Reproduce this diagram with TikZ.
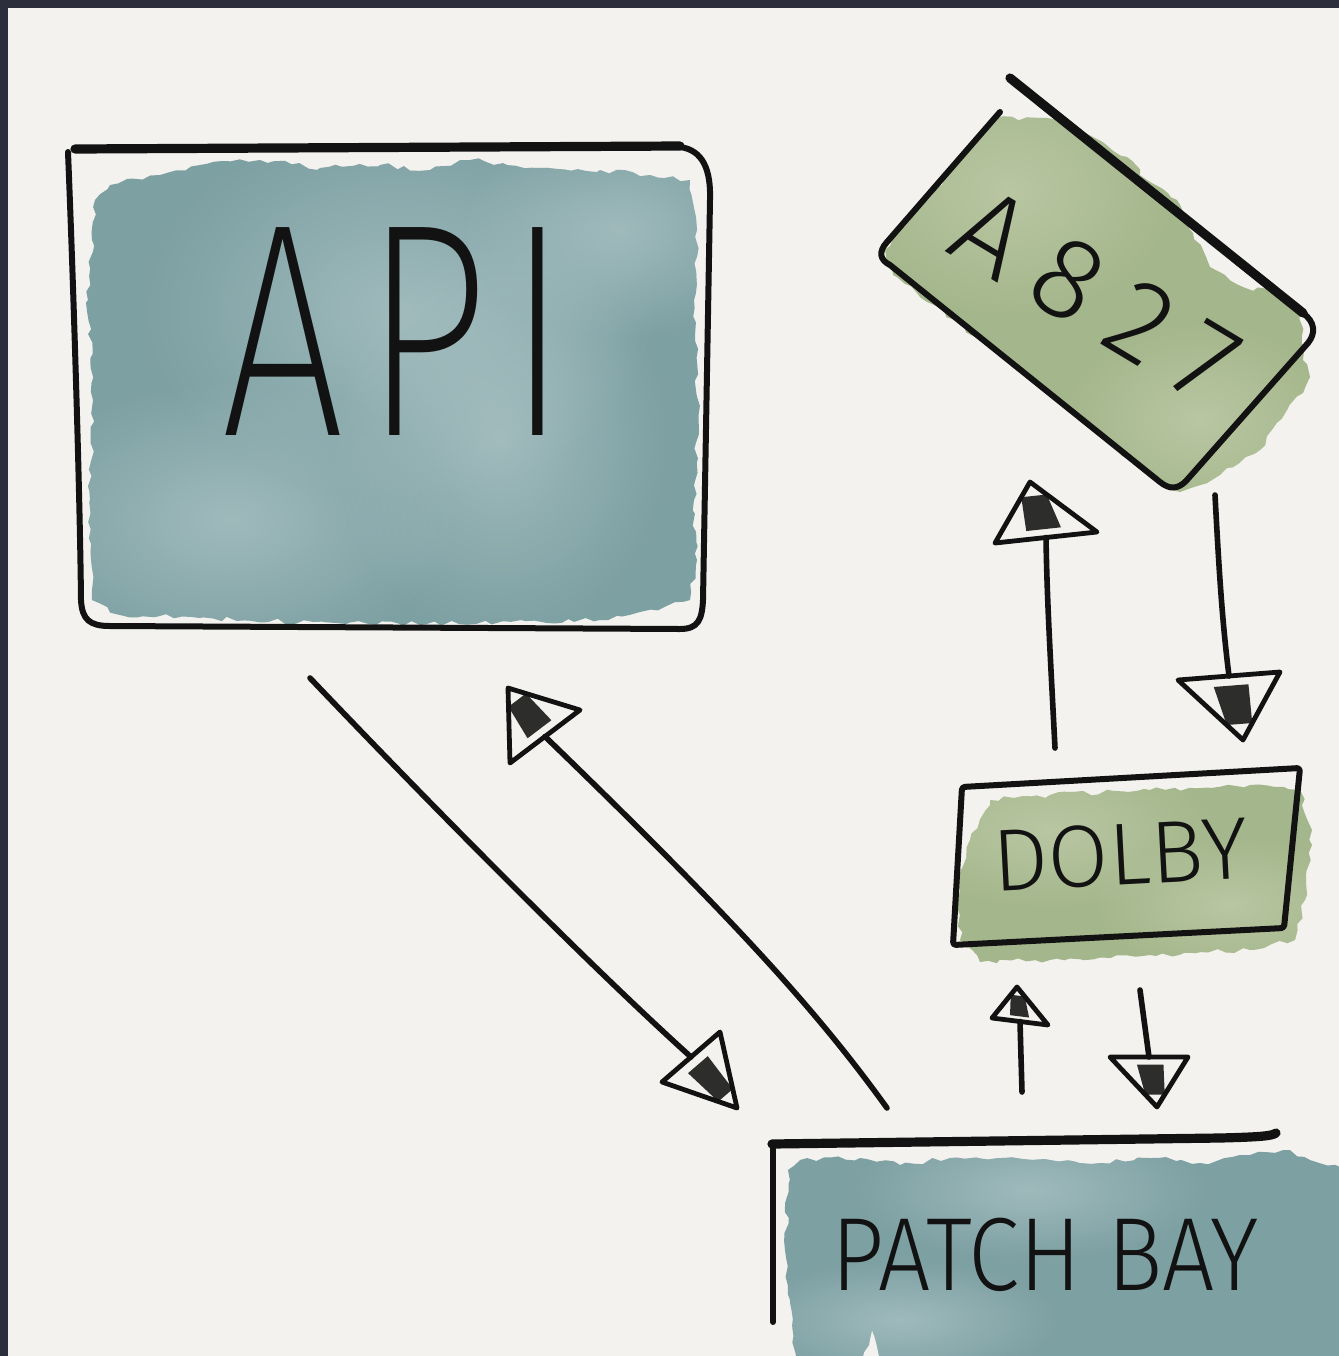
\documentclass[tikz,border=0pt]{standalone}
\usepackage{fontspec}
\usetikzlibrary{calc,decorations.pathmorphing,fadings}
\newfontfamily\handxl{Fira Sans ExtraLight}
\newfontfamily\handl{Fira Sans Light}
\definecolor{paper}{HTML}{F3F2EE}
\definecolor{framecol}{HTML}{2D2E3B}
\definecolor{ink}{HTML}{121212}
\definecolor{washteal}{HTML}{7DA0A3}
\definecolor{washtealL}{HTML}{B2C8C9}
\definecolor{washgreen}{HTML}{A4B68B}
\definecolor{washgreenL}{HTML}{C4D0AF}
\tikzfading[name=softblob, inner color=transparent!35, outer color=transparent!100]
\tikzset{
  inkline/.style={draw=ink, line width=3pt, line cap=round, line join=round},
  heavy/.style={inkline, line width=4.6pt},
  conn/.style={inkline, line width=2.8pt},
  headline/.style={draw=ink, line width=2.4pt, line join=round, line cap=round},
  headfill/.style={fill=ink, fill opacity=0.88},
  wash/.style={decorate, decoration={random steps, segment length=4pt, amplitude=1.3pt}},
  blob/.style={fill=#1, path fading=softblob},
  txt/.style={text=ink, inner sep=0pt},
}
\newcommand\skhead[3]{%
  \fill[headfill] ($(#1)!0.25!(#2)$) -- ($(#1)!0.25!(#3)$) -- ($(#3)!0.3!(#2)!0.15!(#1)$) -- ($(#2)!0.3!(#3)!0.15!(#1)$) -- cycle;
  \draw[headline] (#1) -- (#2) -- (#3) -- cycle;}
\begin{document}
\begin{tikzpicture}[x=0.5pt, y=-0.5pt]
\pgfmathsetseed{7}
\useasboundingbox (0,0) rectangle (1339,1356);
\fill[paper] (0,0) rectangle (1339,1356);
\fill[framecol] (0,0) rectangle (1339,8);
\fill[framecol] (0,0) rectangle (8,1356);

% ---------- API wash ----------
\begin{scope}
  \clip[wash] (95,200) -- (110,185) -- (160,175) -- (200,165) -- (260,160) -- (320,168) -- (380,165) -- (430,170) -- (470,160) -- (540,168) -- (600,170) -- (650,175) -- (690,180) -- (697,230) -- (694,300) -- (698,400) -- (694,500) -- (697,560) -- (690,600) -- (640,612) -- (600,620) -- (500,622) -- (400,624) -- (300,622) -- (200,618) -- (120,615) -- (92,600) -- (90,500) -- (93,400) -- (88,300) -- (92,240) -- cycle;
  \fill[washteal] (0,0) rectangle (1339,1356);
  \fill[blob=washtealL] (400,310) ellipse (260 and 190);
  \fill[blob=washtealL] (500,440) ellipse (170 and 200);
  \fill[blob=washtealL] (230,520) ellipse (230 and 140);
  \fill[blob=washtealL] (620,230) ellipse (160 and 110);
\end{scope}

% ---------- A827 wash ----------
\begin{scope}
  \clip[wash] (885,250) -- (995,118) -- (1047,118) -- (1093,137) -- (1127,157) -- (1147,180) -- (1177,200) -- (1193,233) -- (1210,267) -- (1243,287) -- (1277,293) -- (1300,313) -- (1303,360) -- (1310,377) -- (1303,393) -- (1287,410) -- (1260,450) -- (1220,475) -- (1180,492) -- (1150,475) -- (1000,355) -- (893,275) -- cycle;
  \fill[washgreen] (0,0) rectangle (1339,1356);
  \fill[blob=washgreenL] (1010,190) ellipse (170 and 130);
  \fill[blob=washgreenL] (1200,420) ellipse (140 and 100);
\end{scope}

% ---------- DOLBY wash ----------
\begin{scope}
  \clip[wash] (990,800) -- (1050,795) -- (1150,790) -- (1250,785) -- (1300,790) -- (1312,830) -- (1305,900) -- (1295,940) -- (1250,950) -- (1150,955) -- (1050,960) -- (980,962) -- (960,940) -- (958,880) -- (970,840) -- cycle;
  \fill[washgreen] (0,0) rectangle (1339,1356);
  \fill[blob=washgreenL] (1050,830) ellipse (170 and 80);
  \fill[blob=washgreenL] (1230,905) ellipse (140 and 70);
\end{scope}

% ---------- PATCH BAY wash ----------
\begin{scope}
  \clip[wash] (788,1170) -- (800,1160) -- (860,1158) -- (900,1165) -- (950,1158) -- (1050,1160) -- (1100,1163) -- (1150,1158) -- (1200,1163) -- (1250,1155) -- (1290,1150) -- (1310,1160) -- (1345,1170) -- (1345,1360) -- (880,1360) -- (872,1330) -- (862,1360) -- (795,1360) -- (790,1300) -- (785,1250) -- cycle;
  \fill[washteal] (0,0) rectangle (1339,1356);
  \fill[blob=washtealL] (1030,1190) ellipse (180 and 70);
  \fill[blob=washtealL] (900,1320) ellipse (160 and 60);
\end{scope}

% ---------- box outlines ----------
\draw[inkline] (68,152) .. controls (74,300) and (80,500) .. (81,600) .. controls (82,620) and (90,626) .. (110,626) -- (680,629) .. controls (698,629) and (702,620) .. (703,600) -- (710,200) .. controls (711,170) and (703,150) .. (680,147);
\draw[heavy] (75,149) -- (680,146);

\draw[inkline] (1000,112) -- (887,242) .. controls (878,252) and (880,260) .. (890,265) -- (1160,482) .. controls (1170,490) and (1178,489) .. (1186,481) -- (1308,343) .. controls (1316,333) and (1315,322) .. (1303,313);
\draw[heavy] (1010,78) -- (1303,313);

\draw[inkline, rounded corners=1.5pt] (962,787) -- (1300,768) -- (1284,928) -- (953,945) -- cycle;

\draw[heavy] (772,1144) -- (1220,1138) .. controls (1260,1137) and (1272,1136) .. (1276,1133);
\draw[inkline] (773,1144) -- (773,1322);

% ---------- labels ----------
\node[txt] (api) at (395,332) {\handxl\fontsize{152}{152}\selectfont\addfontfeature{LetterSpace=9}\scalebox{0.72}[1]{API}};
\node[txt, rotate=-31] (a827) at (1096,296) {\handl\fontsize{58}{58}\selectfont\addfontfeature{LetterSpace=22}A827};
\node[txt, rotate=3] (dolby) at (1120,855) {\handl\fontsize{44}{44}\selectfont DOLBY};
\node[txt] (patchbay) at (1045,1255) {\handl\fontsize{52}{52}\selectfont\scalebox{0.89}[1]{PATCH BAY}};

% ---------- connector ends ----------
\coordinate (a1s) at (310,678);  \coordinate (a1t) at (737,1108); \coordinate (a1b) at (720,1032); \coordinate (a1c) at (662,1082);
\coordinate (a2s) at (887,1108); \coordinate (a2t) at (508,688);  \coordinate (a2b) at (580,710);  \coordinate (a2c) at (510,763);
\coordinate (a3s) at (1055,748); \coordinate (a3t) at (1030,482); \coordinate (a3b) at (1097,532); \coordinate (a3c) at (995,543);
\coordinate (a4s) at (1215,495); \coordinate (a4t) at (1243,740); \coordinate (a4b) at (1178,680); \coordinate (a4c) at (1280,672);
\coordinate (a5s) at (1022,1092);\coordinate (a5t) at (1017,987); \coordinate (a5b) at (992,1018); \coordinate (a5c) at (1048,1025);
\coordinate (a6s) at (1140,990); \coordinate (a6t) at (1157,1107);\coordinate (a6b) at (1110,1057);\coordinate (a6c) at (1188,1057);

% ---------- connectors ----------
\draw[conn] (a1s) .. controls (450,825) and (600,975) .. ($(a1b)!0.5!(a1c)$);
\skhead{a1t}{a1b}{a1c}
\draw[conn] (a2s) .. controls (820,1015) and (740,925) .. ($(a2b)!0.5!(a2c)$);
\skhead{a2t}{a2b}{a2c}
\draw[conn] (a3s) .. controls (1050,650) and (1047,600) .. ($(a3b)!0.5!(a3c)$);
\skhead{a3t}{a3b}{a3c}
\draw[conn] (a4s) .. controls (1219,570) and (1222,620) .. ($(a4b)!0.5!(a4c)$);
\skhead{a4t}{a4b}{a4c}
\draw[conn] (a5s) -- ($(a5b)!0.5!(a5c)$);
\skhead{a5t}{a5b}{a5c}
\draw[conn] (a6s) -- ($(a6b)!0.5!(a6c)$);
\skhead{a6t}{a6b}{a6c}
\end{tikzpicture}
\end{document}
